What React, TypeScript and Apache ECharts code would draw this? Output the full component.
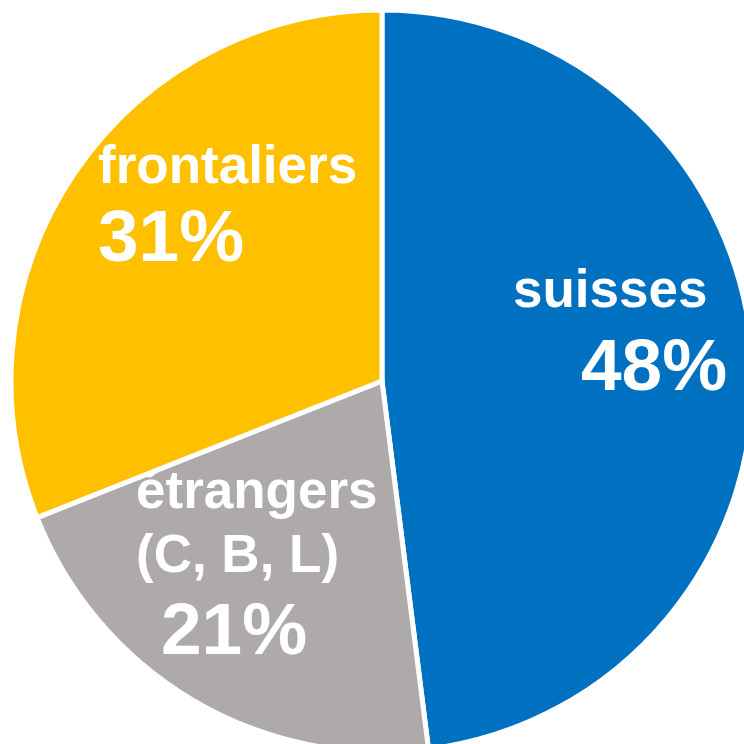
import React, { useEffect, useRef } from "react";
import * as echarts from "echarts";

const categories = ["suisses", "étrangers\n(C, B, L)", "frontaliers"];
const values = [48, 21, 31];
const colors = ["#0070C0", "#AEAAAA", "#FFC000"];

// label placement (top-left of label block) and per-label styling
const labelPos = [
  { x: 513, y: 256, pad: 68, pctLH: 88 },
  { x: 136, y: 457, pad: 25, pctLH: 87 },
  { x: 98, y: 132, pad: 0, pctLH: 79 },
];

export default function App() {
  const ref = useRef<HTMLDivElement>(null);
  useEffect(() => {
    if (!ref.current) return;
    const chart = echarts.init(ref.current, null, { renderer: "svg" });
    const font = "'Liberation Sans', Arial, sans-serif";
    const data = categories.map((name, i) => ({
      name,
      value: values[i],
      itemStyle: { color: colors[i] },
      label: {
        formatter: () => {
          const lines = name.split("\n").map((l) => `{n|${l}}`);
          return lines.join("\n") + `\n{p|${values[i]}%}`;
        },
        rich: {
          n: {
            fontSize: 53,
            lineHeight: 64,
            fontWeight: "bold",
            color: "#ffffff",
            fontFamily: font,
          },
          p: {
            fontSize: 73,
            lineHeight: labelPos[i].pctLH,
            fontWeight: "bold",
            color: "#ffffff",
            fontFamily: font,
            padding: [0, 0, 0, labelPos[i].pad],
          },
        },
      },
    }));
    chart.setOption({
      animation: false,
      backgroundColor: "#ffffff",
      series: [
        {
          type: "pie",
          center: [382, 381],
          radius: 371,
          startAngle: 90,
          clockwise: true,
          avoidLabelOverlap: false,
          itemStyle: { borderColor: "#ffffff", borderWidth: 5 },
          label: { show: true, position: "inside" },
          labelLine: { show: false },
          labelLayout: (params: any) => {
            const p = labelPos[params.dataIndex];
            return { x: p.x, y: p.y, align: "left", verticalAlign: "top" };
          },
          emphasis: { disabled: true },
          data,
        },
      ],
    });
    return () => chart.dispose();
  }, []);
  return (
    <div
      ref={ref}
      style={{ position: "fixed", left: 0, top: 0, width: 744, height: 744 }}
    />
  );
}
